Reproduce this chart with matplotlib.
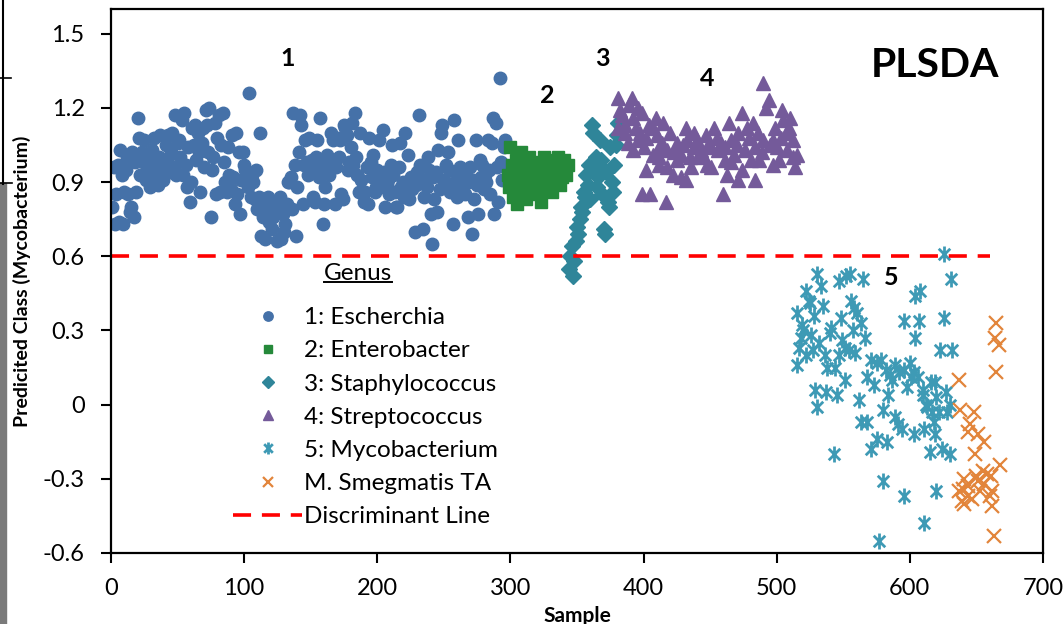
import numpy as np
import matplotlib
matplotlib.use("Agg")
import matplotlib.pyplot as plt
from matplotlib.path import Path
from matplotlib.lines import Line2D
from matplotlib.patches import Rectangle

plt.rcParams["font.family"] = ["Lato", "DejaVu Sans"]

# ---- data ----
# 1: Escherchia, samples 1..297
esch_y = [
    0.80, 0.96, 0.73, 0.85, 0.97, 0.74, 1.03, 0.93, 0.73, 0.86,
    0.95, 1.00, 0.85, 0.78, 0.80, 1.02, 0.76, 0.98, 0.86, 1.16,
    1.08, 0.93, 1.02, 0.98, 1.07, 0.91, 0.99, 0.95, 0.88, 0.96,
    1.03, 1.08, 0.93, 0.97, 0.89, 1.00, 1.09, 0.95, 0.91, 0.98,
    1.05, 0.99, 1.09, 0.94, 1.02, 1.10, 0.96, 1.17, 0.93, 1.06,
    1.07, 1.00, 1.15, 0.93, 1.18, 0.97, 0.88, 1.04, 0.82, 0.90,
    1.12, 1.05, 1.13, 0.99, 1.10, 1.02, 0.86, 1.06, 1.12, 0.96,
    1.19, 1.13, 1.02, 1.20, 0.76, 0.95, 1.00, 1.14, 0.85, 1.08,
    1.17, 0.86, 1.05, 1.18, 0.98, 0.90, 0.86, 1.04, 0.93, 0.87,
    1.09, 0.92, 0.81, 1.10, 0.85, 1.02, 0.77, 0.91, 1.02, 0.97,
    0.95, 0.90, 0.88, 1.26, 0.84, 0.93, 0.90, 0.83, 0.95, 0.79,
    0.84, 1.10, 0.68, 0.76, 0.82, 0.67, 0.79, 0.84, 0.74, 0.81,
    0.71, 0.76, 0.82, 0.78, 0.66, 0.80, 0.84, 0.67, 0.77, 0.70,
    0.73, 0.81, 0.90, 0.90, 0.92, 0.79, 1.18, 0.97, 0.68, 0.88,
    1.02, 1.17, 1.13, 0.81, 0.97, 1.07, 0.98, 0.93, 1.08, 0.95,
    0.99, 0.84, 0.82, 1.00, 1.07, 0.92, 1.16, 0.96, 0.73, 0.81,
    0.88, 1.01, 0.98, 0.93, 1.10, 0.96, 1.07, 0.81, 0.96, 1.08,
    1.00, 1.07, 0.85, 0.83, 1.13, 1.12, 1.09, 0.95, 0.98, 1.04,
    1.14, 0.97, 1.18, 1.00, 0.93, 0.86, 1.10, 0.91, 0.85, 0.82,
    0.86, 0.96, 0.81, 1.08, 0.98, 0.92, 1.01, 0.86, 0.88, 0.95,
    1.07, 0.93, 0.88, 1.11, 0.94, 0.80, 0.89, 0.91, 0.85, 0.97,
    1.05, 0.93, 0.86, 0.80, 0.80, 0.96, 1.06, 0.88, 0.90, 0.84,
    1.10, 0.86, 1.01, 0.83, 0.92, 0.87, 0.90, 0.70, 0.89, 0.94,
    1.17, 0.97, 0.91, 0.71, 0.84, 0.90, 0.88, 1.00, 0.95, 0.77,
    0.65, 0.92, 0.83, 0.94, 0.78, 1.03, 0.87, 1.10, 1.13, 0.91,
    0.90, 0.97, 1.02, 0.95, 0.86, 0.88, 0.73, 1.15, 0.91, 0.84,
    1.07, 0.96, 0.93, 0.88, 0.94, 0.85, 0.92, 0.76, 0.90, 0.96,
    0.69, 0.91, 0.83, 1.07, 0.89, 0.77, 0.99, 0.92, 0.97, 0.87,
    0.93, 0.90, 1.07, 0.95, 0.85, 1.06, 1.16, 0.77, 1.14, 0.96,
    0.82, 1.32, 0.98, 0.91, 1.04, 1.07, 0.96,
]
esch_start = 1

# 2: Enterobacter, samples 298..343
entero_y = [
    0.93, 0.88, 1.04, 0.97, 0.84, 0.92, 0.99, 0.81, 0.95, 0.90,
    1.02, 0.86, 0.93, 0.97, 0.83, 0.91, 1.00, 0.88, 0.95, 0.92,
    0.85, 0.98, 0.93, 0.89, 0.96, 0.82, 0.94, 1.00, 0.91, 0.87,
    0.97, 0.93, 0.99, 0.86, 0.95, 0.91, 0.98, 0.94, 1.00, 0.89,
    0.96, 0.92, 0.99, 0.95, 0.93, 0.97,
]
entero_start = 298

# 3: Staphylococcus, samples 344..381
staph_y = [
    0.55, 0.60, 0.64, 0.52, 0.58, 0.66, 0.72, 0.69, 0.75, 0.80,
    0.78, 0.86, 0.84, 0.93, 0.89, 0.97, 0.83, 1.13, 1.10, 0.95,
    1.00, 0.88, 0.92, 1.07, 0.99, 0.85, 0.71, 0.69, 0.94, 0.82,
    0.80, 1.04, 0.90, 0.86, 0.97, 1.05, 1.09, 1.14,
]
staph_start = 344

# 4: Streptococcus
strep_x = [381, 381, 382, 384, 386, 386, 388, 389, 391, 392, 392, 394, 396, 396, 397,
           399, 399, 400, 402, 402, 404, 405, 407, 407, 409, 410, 412, 412, 412, 414,
           415, 417, 418, 418, 420, 422, 423, 425, 425, 428, 428, 430, 432, 432, 433,
           435, 436, 438, 438, 440, 442, 443, 445, 447, 448, 448, 450, 451, 453, 455,
           456, 458, 460, 461, 461, 463, 464, 466, 466, 468, 470, 471, 471, 474, 474,
           476, 478, 479, 481, 482, 484, 484, 486, 487, 489, 490, 490, 492, 494, 495,
           497, 497, 499, 500, 502, 503, 504, 505, 507, 508, 509, 510, 512, 512, 514, 515]
strep_y = [1.24, 1.12, 1.19, 1.17, 1.13, 1.10, 1.06, 1.21, 1.24, 1.16, 1.03, 1.12, 1.20, 1.07, 1.10,
           1.18, 0.85, 1.04, 1.08, 0.95, 1.13, 0.85, 1.12, 1.01, 1.16, 1.09, 1.04, 0.97, 1.00, 1.06,
           1.14, 0.82, 0.96, 1.03, 1.10, 0.93, 1.02, 0.99, 1.06, 0.92, 1.01, 1.05, 1.12, 0.91, 1.07,
           1.00, 0.96, 1.04, 1.10, 1.07, 1.00, 1.03, 1.01, 1.09, 0.97, 1.04, 1.05, 0.96, 1.12, 1.08,
           1.03, 1.06, 0.85, 0.99, 1.04, 0.93, 1.14, 1.07, 0.98, 1.01, 1.05, 1.10, 0.91, 1.18, 0.95,
           1.03, 1.12, 1.08, 0.99, 1.14, 1.04, 0.91, 1.10, 0.99, 1.02, 1.30, 1.07, 1.20, 1.23, 1.05,
           1.07, 0.97, 1.12, 1.04, 0.99, 1.08, 1.19, 1.15, 1.10, 1.03, 1.12, 1.16, 1.07, 1.00, 0.96, 1.01]

# 5: Mycobacterium
myco_x = [515, 515, 517, 518, 519, 520, 522, 522, 524, 525, 526, 527, 528, 529, 530,
          530, 532, 533, 535, 536, 537, 538, 540, 541, 543, 544, 545, 547, 547, 548,
          549, 551, 551, 552, 554, 555, 556, 557, 558, 559, 560, 562, 563, 563, 565,
          566, 568, 568, 571, 571, 573, 575, 575, 577, 578, 580, 580, 582, 583, 584,
          585, 587, 589, 589, 591, 592, 594, 596, 596, 596, 598, 600, 601, 603, 603,
          604, 604, 606, 607, 608, 610, 610, 611, 611, 612, 613, 615, 616, 617, 618,
          619, 619, 620, 620, 622, 623, 624, 626, 626, 627, 628, 630, 630, 631, 632]
myco_y = [0.37, 0.16, 0.23, 0.27, 0.32, 0.30, 0.46, 0.20, 0.42, 0.41, 0.28, 0.22, 0.36, 0.06, 0.53,
          -0.01, 0.25, 0.48, 0.40, 0.20, 0.05, 0.15, 0.29, 0.31, -0.20, 0.15, 0.04, 0.20, 0.50, 0.35,
          0.26, 0.23, 0.10, 0.52, 0.22, 0.53, 0.42, 0.30, 0.39, 0.21, 0.37, 0.02, 0.33, -0.07, 0.51,
          0.27, -0.07, 0.11, 0.18, -0.18, 0.08, 0.17, -0.14, -0.55, 0.18, -0.02, -0.31, 0.14, -0.15, 0.04,
          0.12, 0.10, 0.16, -0.05, -0.08, 0.13, -0.10, 0.14, 0.34, -0.37, 0.07, 0.17, 0.11, 0.13, -0.12,
          0.44, 0.27, 0.11, 0.34, 0.46, 0.06, 0.04, -0.10, -0.48, 0.00, -0.01, -0.19, 0.09, -0.03, -0.07,
          0.09, -0.12, 0.03, -0.35, -0.03, 0.22, -0.18, 0.35, 0.61, 0.05, -0.03, 0.00, -0.20, 0.51, 0.22]

# M. Smegmatis TA
smeg_x = [637, 637, 638, 639, 640, 641, 641, 644, 644, 644, 645, 647, 648, 649, 650, 651,
          651, 653, 655, 656, 656, 658, 660, 661, 662, 662, 663, 664, 665, 665, 667, 668]
smeg_y = [0.10, -0.35, -0.02, -0.39, -0.34, -0.30, -0.40, -0.11, -0.33, -0.37, -0.08, -0.38,
          -0.03, -0.20, -0.29, -0.12, -0.31, -0.35, -0.27, -0.15, -0.32, -0.28, -0.37, -0.29,
          -0.35, -0.41, -0.53, 0.27, 0.33, 0.13, 0.24, -0.245]

disc_y = 0.6
disc_x = [0, 660]

group_labels = [(133, 1.40, "1"), (328, 1.25, "2"), (369, 1.40, "3"), (448, 1.32, "4"), (586, 0.515, "5")]
yticks = [-0.6, -0.3, 0, 0.3, 0.6, 0.9, 1.2, 1.5]
ytick_labels = ["-0.6", "-0.3", "0", "0.3", "0.6", "0.9", "1.2", "1.5"]
xticks = [0, 100, 200, 300, 400, 500, 600, 700]

# Excel-like star marker (x with a vertical bar)
star = Path([(0, -1), (0, 1), (-0.72, -0.72), (0.72, 0.72), (-0.72, 0.72), (0.72, -0.72)],
            [Path.MOVETO, Path.LINETO] * 3)

fig = plt.figure(figsize=(10.64, 6.24), dpi=100)
ax = fig.add_axes([0.1043, 0.1138, 0.8759, 0.8718])

ax.plot(np.arange(len(esch_y)) + esch_start, esch_y, ls="none", marker="o", ms=9,
        color="#4571A8", label="1: Escherchia")
ax.plot(np.arange(len(entero_y)) + entero_start, entero_y, ls="none", marker="s", ms=8,
        color="#25893A", label="2: Enterobacter")
ax.plot(np.arange(len(staph_y)) + staph_start, staph_y, ls="none", marker="D", ms=8,
        color="#2F8599", label="3: Staphylococcus")
ax.plot(strep_x, strep_y, ls="none", marker="^", ms=10, color="#745A9A",
        label="4: Streptococcus")
ax.plot(myco_x, myco_y, ls="none", marker=star, ms=11.5, mew=2, mfc="none",
        color="#3E9AB5", label="5: Mycobacterium")
ax.plot(smeg_x, smeg_y, ls="none", marker="x", ms=9.5, mew=1.6, color="#E2853B",
        label="M. Smegmatis TA")
ax.plot(disc_x, [disc_y, disc_y], color="#FF0000", lw=2.6, dashes=(5, 3),
        label="Discriminant Line")

for gx, gy, gt in group_labels:
    ax.text(gx, gy, gt, fontsize=18, fontweight="bold", ha="center", va="center")
ax.text(619, 1.37, "PLSDA", fontsize=29.5, fontweight="bold", ha="center", va="center")

ax.set_xlim(0, 700)
ax.set_ylim(-0.6, 1.6)
ax.set_xticks(xticks)
ax.set_yticks(yticks)
ax.set_yticklabels(ytick_labels)
ax.tick_params(direction="out", length=7, width=1.5, labelsize=17)
ax.tick_params(axis="x", pad=11)
ax.tick_params(axis="y", pad=12)
for sp in ax.spines.values():
    sp.set_linewidth(1.6)

ax.set_xlabel("Sample", fontsize=15, fontweight="bold", labelpad=5)
ax.set_ylabel("Predicited Class (Mycobacterium)", fontsize=14, fontweight="bold", labelpad=8)

leg = ax.legend(loc="upper left", bbox_to_anchor=(0.118, 0.474), frameon=False,
                fontsize=17.5, markerscale=0.75, handlelength=2.85, handletextpad=0.05,
                labelspacing=0.50, borderpad=0)

# legend heading, underlined
genus = ax.text(185.5, 0.531, "Genus", fontsize=17.5, ha="center", va="center")
fig.canvas.draw()
tb = genus.get_window_extent(fig.canvas.get_renderer())
inv = fig.transFigure.inverted()
(x0, y0), (x1, _) = inv.transform([(tb.x0, tb.y0 + 2), (tb.x1, tb.y0 + 2)])
fig.add_artist(Line2D([x0, x1], [y0, y0], color="black", lw=1.4, transform=fig.transFigure))

# leftover edges of the neighbouring panel in the cropped screenshot
fig.add_artist(Line2D([0.003, 0.003], [1.0, 0.705], color="black", lw=1.5, transform=fig.transFigure))
fig.add_artist(Line2D([0.0, 0.010], [0.875, 0.875], color="black", lw=1.2, transform=fig.transFigure))
fig.add_artist(Line2D([0.0, 0.011], [0.706, 0.706], color="black", lw=1.2, transform=fig.transFigure))
fig.add_artist(Rectangle((0.0, 0.0), 0.006, 0.706, color="#7a7a7a", transform=fig.transFigure))

fig.savefig("out.png", dpi=100)
